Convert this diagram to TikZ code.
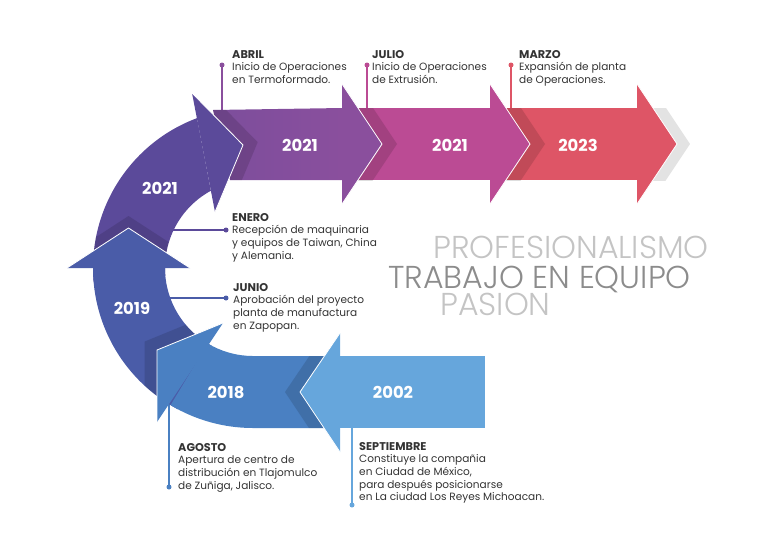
\documentclass[tikz,border=0pt]{standalone}
\usepackage{fontspec}
\setmainfont{Poppins}
\newfontfamily\thinfont{Poppins}[UprightFont=* Light]
\usetikzlibrary{positioning, calc}
\definecolor{cA}{HTML}{5B4A9A}
\definecolor{cB}{HTML}{4A5CA8}
\definecolor{cC}{HTML}{4A80C2}
\definecolor{cD}{HTML}{66A6DC}
\definecolor{cE}{HTML}{8A4F9D}
\definecolor{cF}{HTML}{BB4B94}
\definecolor{cG}{HTML}{DE5566}
\definecolor{ink}{HTML}{333333}
\definecolor{mottolight}{HTML}{C4C4C4}
\definecolor{mottodark}{HTML}{8C8C8C}
\newcommand{\mes}[1]{{\fontsize{9.6}{10.8}\selectfont\bfseries #1}}

% arrow bodies (ring centre C, radii 160 / 88)
\newcommand{\bodyRed}{(505,108) rectangle (637,180)}
\newcommand{\bodyPink}{(355,108) rectangle (490,180)}
\newcommand{\bodyPurple}{(213,110) -- (342,108) -- (342,180) -- (230,180) -- cycle}
\newcommand{\bodyCurve}{($(C)+(175:160)$) arc[start angle=175, end angle=249.5, radius=160] -- ($(C)+(241.4:88)$) arc[start angle=241.4, end angle=175, radius=88] -- cycle}
\newcommand{\bodyNineteen}{($(C)+(118:160)$) arc[start angle=118, end angle=180, radius=160] -- ($(C)+(180:88)$) arc[start angle=180, end angle=118, radius=88] -- cycle}
\newcommand{\bodyEighteen}{($(C)+(121:160)$) arc[start angle=121, end angle=90, radius=160] -- (330,428) -- (330,356) -- ($(C)+(90:88)$) arc[start angle=90, end angle=121, radius=88] -- cycle}
\newcommand{\bodyTwoThousand}{(340,356) rectangle (485,428)}
% arrow heads
\newcommand{\headRed}{(637,84) -- (677,144) -- (637,204) -- cycle}
\newcommand{\headPink}{(490,84) -- (530,144) -- (490,204) -- cycle}
\newcommand{\headPurple}{(342,84) -- (382,144) -- (342,204) -- cycle}
\newcommand{\headCurve}{(192,93) -- (243,145) -- (215,212) -- cycle}
\newcommand{\headNineteen}{(67,268) -- (128.5,228) -- (190,268) -- cycle}
\newcommand{\headEighteen}{(223,323) -- (157,350) -- (157,422) -- cycle}
\newcommand{\headTwoThousand}{(340,333) -- (300,392) -- (340,452) -- cycle}

\begin{document}
\begin{tikzpicture}[x=0.3mm, y=-0.3mm,
  year/.style={text=white, font=\fontsize{14}{16}\selectfont\bfseries},
  note/.style={anchor=north west, inner sep=0pt, align=left, text=ink,
    font=\fontsize{9}{10.8}\selectfont},
  dotmark/.style={circle, inner sep=0pt, minimum size=1.5mm},
  link/.style={line width=1.1pt},
  rim/.style={white, line width=0.7pt},
  cast/.style={black, opacity=0.13},
  motto/.style={anchor=base west, inner sep=0pt, font=\thinfont\fontsize{27}{30}\selectfont}]
\useasboundingbox (0,0) rectangle (783,558);
\coordinate (C) at (253,268);

% markers
\node[dotmark, fill=cE] (dAbril) at (222,65) {};
\node[dotmark, fill=cF] (dJulio) at (367,65) {};
\node[dotmark, fill=cG] (dMarzo) at (511,65) {};
\node[dotmark, fill=cA] (dEnero) at (226,230) {};
\node[dotmark, fill=cB] (dJunio) at (226,298) {};
\node[dotmark, fill=cC] (dAgosto) at (169,487) {};
\node[dotmark, fill=cD] (dSept) at (352,505) {};
\coordinate (eAbril) at (222,115);
\coordinate (eJulio) at (367,115);
\coordinate (eMarzo) at (511,115);
\coordinate (eEnero) at (165,230);
\coordinate (eJunio) at (160,298);
\coordinate (eAgosto) at (169,400);
\coordinate (eSept) at (352,420);
\draw[link, cE] (dAbril.center) -- (eAbril);
\draw[link, cF] (dJulio.center) -- (eJulio);
\draw[link, cG] (dMarzo.center) -- (eMarzo);
\draw[link, cA] (dEnero.center) -- (eEnero);
\draw[link, cB] (dJunio.center) -- (eJunio);
\draw[link, cC] (dAgosto.center) -- (eAgosto);
\draw[link, cD] (dSept.center) -- (eSept);

% 2023
\begin{scope}
  \clip (600,108) rectangle (700,180);
  \fill[black!11, shift={(13,0)}] \headRed;
\end{scope}
\fill[cG] \bodyRed;
\fill[cG] \headRed;
\draw[rim] (637,84) -- (677,144) -- (637,204);

% 2021 (julio)
\begin{scope}
  \clip \bodyRed;
  \fill[cast, shift={(15,0)}] \headPink;
\end{scope}
\fill[cF] \bodyPink;
\fill[cF] \headPink;
\draw[rim] (490,84) -- (530,144) -- (490,204);

% 2021 (abril)
\begin{scope}
  \clip \bodyPink;
  \fill[cast, shift={(15,0)}] \headPurple;
\end{scope}
\shade[left color=cE!70!cA, right color=cE] \bodyPurple;
\fill[cE] \headPurple;
\draw[rim] (342,84) -- (382,144) -- (342,204);

% 2021 (enero)
\begin{scope}
  \clip \bodyPurple;
  \fill[cast, shift={(14.7,-2.8)}] \headCurve;
\end{scope}
\fill[cA] \bodyCurve;
\fill[cA] \headCurve;
\draw[rim] (192,93) -- (243,145) -- (215,212);

% 2019
\begin{scope}
  \clip \bodyCurve;
  \fill[cast, shift={(0,-12)}] \headNineteen;
\end{scope}
\fill[cB] \bodyNineteen;
\fill[cB] \headNineteen;
\draw[rim] (67,268) -- (128.5,228) -- (190,268);

% 2018
\begin{scope}
  \clip \bodyNineteen;
  \fill[cast, shift={(-12.5,-8.4)}] \headEighteen;
\end{scope}
\fill[cC] \bodyEighteen;
\fill[cC] \headEighteen;
\draw[rim] (223,323) -- (157,350) -- (157,422);

% 2002
\begin{scope}
  \clip \bodyEighteen;
  \fill[cast, shift={(-15,0)}] \headTwoThousand;
\end{scope}
\fill[cD] \bodyTwoThousand;
\fill[cD] \headTwoThousand;
\draw[rim] (340,333) -- (300,392) -- (340,452);

% years
\node[year] (y23) at (578,145) {2023};
\node[year] (y21j) at (450,145) {2021};
\node[year] (y21a) at (300,145) {2021};
\node[year] (y21e) at (160,188) {2021};
\node[year] (y19) at (132,308) {2019};
\node[year] (y18) at (226,392) {2018};
\node[year] (y02) at (393,392) {2002};

% notes
\node[note] (tAbril) at (232,50) {\mes{ABRIL}\\Inicio de Operaciones\\en Termoformado.};
\node[note] (tJulio) at (372,50) {\mes{JULIO}\\Inicio de Operaciones\\de Extrusión.};
\node[note] (tMarzo) at (519,50) {\mes{MARZO}\\Expansión de planta\\de Operaciones.};
\node[note] (tEnero) at (232,213) {\mes{ENERO}\\Recepción de maquinaria\\y equipos de Taiwan, China\\y Alemania.};
\node[note] (tJunio) at (233,283) {\mes{JUNIO}\\Aprobación del proyecto\\planta de manufactura\\en Zapopan.};
\node[note] (tAgosto) at (178,443) {\mes{AGOSTO}\\Apertura de centro de\\distribución en Tlajomulco\\de Zuñiga, Jalisco.};
\node[note] (tSept) at (359,442) {\mes{SEPTIEMBRE}\\Constituye la compañia\\en Ciudad de México,\\para después posicionarse\\en La ciudad Los Reyes Michoacan.};

% motto
\node[motto, text=mottolight] (mProf) at (433,258) {PROFESIONALISMO};
\node[motto, text=mottodark] (mTrab) at (388,288) {TRABAJO EN EQUIPO};
\node[motto, text=mottolight] (mPas) at (440,315) {PASION};
\end{tikzpicture}
\end{document}
